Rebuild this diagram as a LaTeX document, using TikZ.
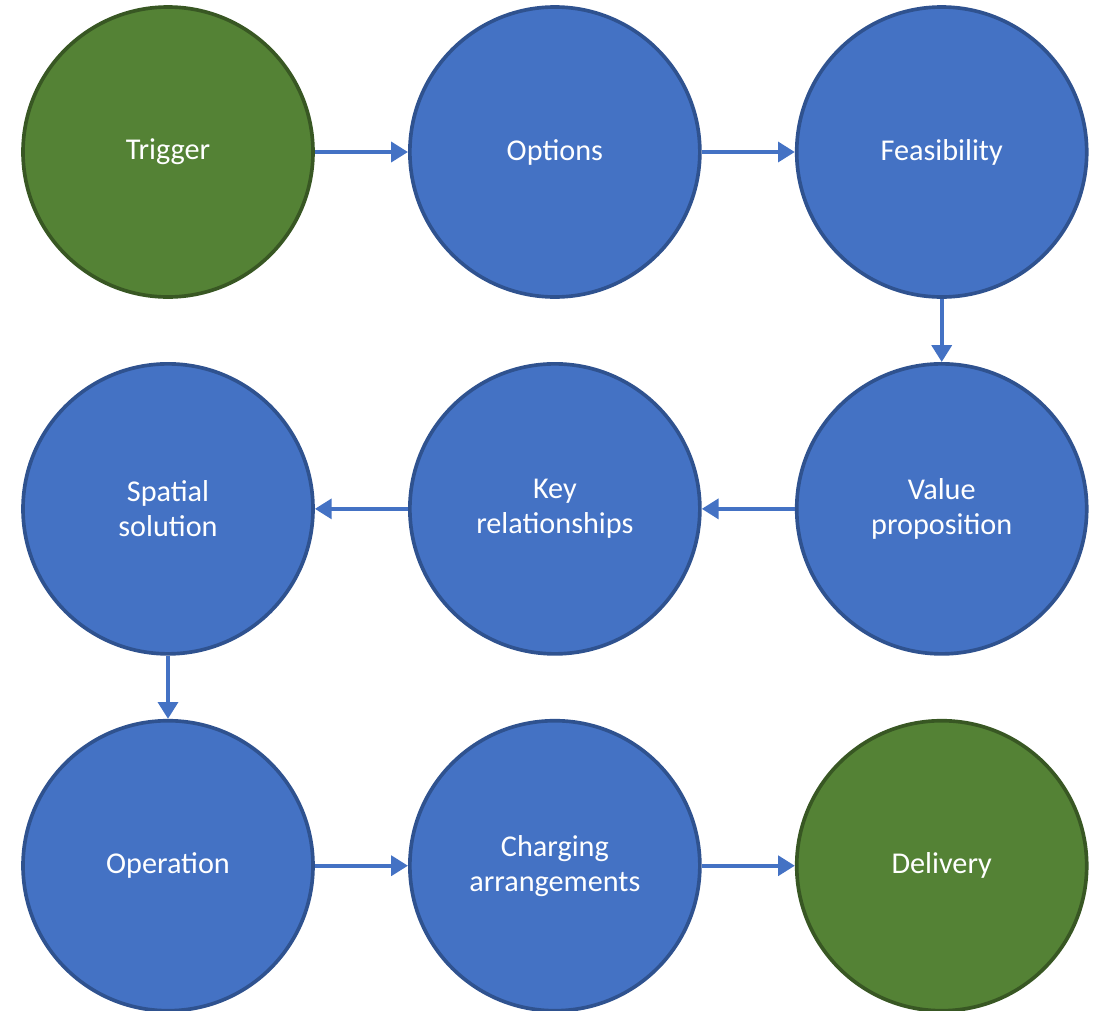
\documentclass[tikz,border=0pt]{standalone}
\usepackage{fontspec}
\setmainfont{Carlito}
\usetikzlibrary{positioning,arrows.meta}
\definecolor{stageblue}{HTML}{4472C4}
\definecolor{stageblueline}{HTML}{2F528F}
\definecolor{stagegreen}{HTML}{548235}
\definecolor{stagegreenline}{HTML}{385723}

\begin{document}
\begin{tikzpicture}
		[
		stage/.style = {circle, draw=stageblueline, fill=stageblue, line width=2.6pt,
			minimum size=7.25cm, inner sep=0pt, text=white, align=center,
			font=\fontsize{21.5}{25}\selectfont},
		endstage/.style = {stage, draw=stagegreenline, fill=stagegreen},
		flow/.style = {draw=stageblue, line width=3pt, -{Triangle[length=12pt, width=14pt]}},
		node distance = 1.58cm and 2.33cm
		]
		
		\useasboundingbox (0,0) rectangle (27.55,-25.25);
		
		\node[endstage] (trig) at (4.2,-3.8) {Trigger};
		\node[stage, right=of trig] (opts) {Options};
		\node[stage, right=of opts] (feas) {Feasibility};
		\node[stage, below=of feas] (value) {Value\\proposition};
		\node[stage, left=of value] (keyrel) {Key\\relationships};
		\node[stage, left=of keyrel] (spatial) {Spatial\\solution};
		\node[stage, below=of spatial] (oper) {Operation};
		\node[stage, right=of oper] (charge) {Charging\\arrangements};
		\node[endstage, right=of charge] (deliv) {Delivery};
		
		\draw[flow] (trig) -- (opts);
		\draw[flow] (opts) -- (feas);
		\draw[flow] (feas) -- (value);
		\draw[flow] (value) -- (keyrel);
		\draw[flow] (keyrel) -- (spatial);
		\draw[flow] (spatial) -- (oper);
		\draw[flow] (oper) -- (charge);
		\draw[flow] (charge) -- (deliv);
		
		\end{tikzpicture}
\end{document}
